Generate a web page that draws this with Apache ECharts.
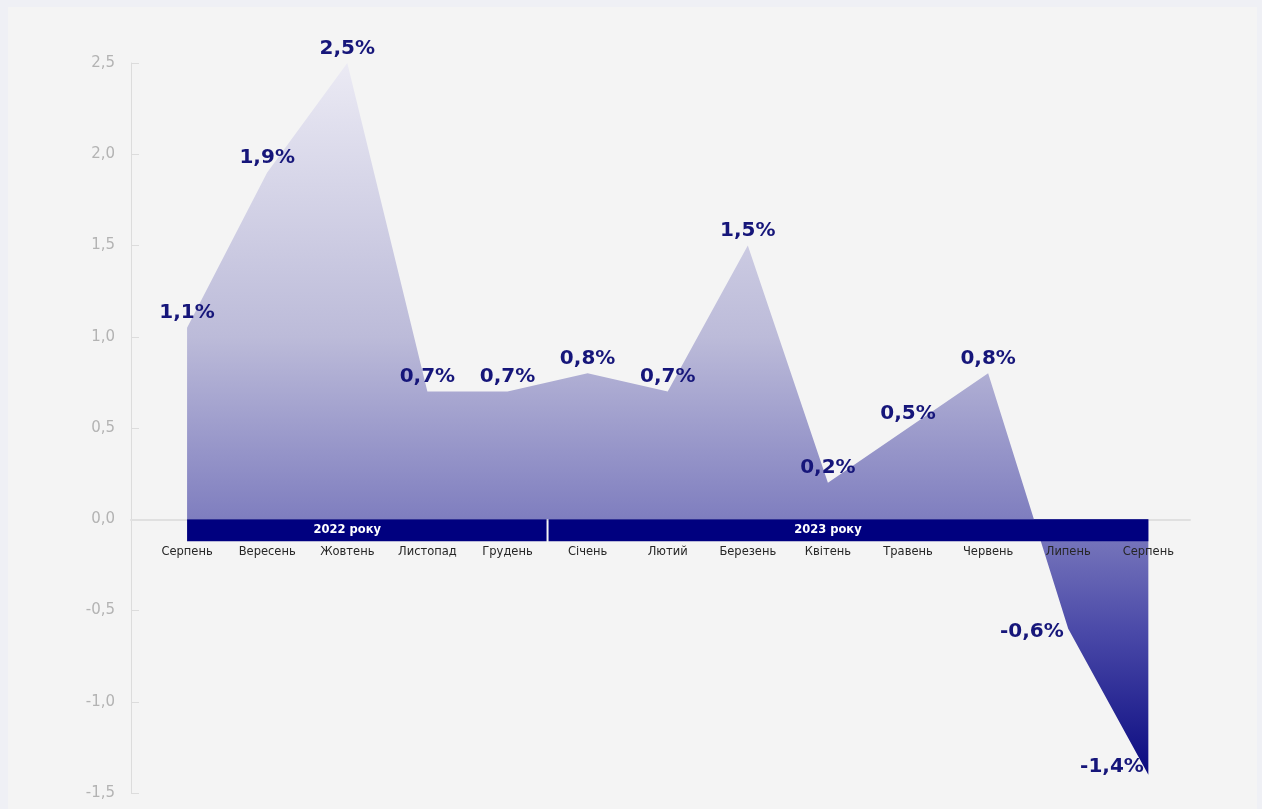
<!DOCTYPE html>
<html>
<head>
<meta charset="utf-8">
<script src="https://cdn.jsdelivr.net/npm/echarts@6/dist/echarts.min.js"></script>
<style>
html,body{margin:0;padding:0;background:#eff0f5;}
#main{position:absolute;left:0;top:0;width:1262px;height:809px;}
</style>
</head>
<body>
<div id="main"></div>
<script>
// ---- data ----
const months = ['Серпень','Вересень','Жовтень','Листопад','Грудень','Січень','Лютий','Березень','Квітень','Травень','Червень','Липень','Серпень'];
const values = [1.05, 1.9, 2.5, 0.7, 0.7, 0.8, 0.7, 1.5, 0.2, 0.5, 0.8, -0.6, -1.4];
const valueLabels = ['1,1%','1,9%','2,5%','0,7%','0,7%','0,8%','0,7%','1,5%','0,2%','0,5%','0,8%','-0,6%','-1,4%'];
const years = ['2022 року', '2023 року'];
const yearStart = [0, 4.5];
const yearEnd = [4.5, 12];
const yearLabelAt = [2, 8];

// ---- chart ----
const chart = echarts.init(document.getElementById('main'));
const navy = '#00007f';

const lineData = values.map((v, i) => {
  const d = { value: [i, v] };
  if (i >= 11) d.label = { position: 'left', distance: 4 };
  return d;
});

const bandData = years.map((y, i) => [yearStart[i], yearEnd[i], yearLabelAt[i], 0]);
const monthData = months.map((m, i) => [i, 0]);

chart.setOption({
  backgroundColor: 'transparent',
  graphic: [{
    type: 'rect', z: -10, silent: true,
    shape: { x: 8, y: 7, width: 1249, height: 810 },
    style: { fill: '#f4f4f4' }
  }],
  grid: { left: 131, right: 72, top: 63, bottom: 16, containLabel: false, outerBoundsMode: 'none' },
  xAxis: {
    type: 'value', min: -0.7, max: 12.52, z: 1,
    axisLine: { onZero: true, lineStyle: { color: '#e0e0e0', width: 2 } },
    axisTick: { show: false },
    splitLine: { show: false },
    axisLabel: { show: false }
  },
  yAxis: {
    type: 'value', min: -1.5, max: 2.5, interval: 0.5,
    axisLine: { show: true, onZero: false, lineStyle: { color: '#dcdcdc' } },
    axisTick: { show: true, inside: true, length: 8, lineStyle: { color: '#dcdcdc' } },
    splitLine: { show: false },
    axisLabel: {
      margin: 16, color: '#b3b3b3', fontSize: 15, fontFamily: 'DejaVu Sans',
      formatter: v => v.toFixed(1).replace('.', ',')
    }
  },
  series: [{
    type: 'line',
    data: lineData,
    symbol: 'circle',
    symbolSize: 1,
    showSymbol: true,
    itemStyle: { color: 'rgba(0,0,0,0)' },
    lineStyle: { width: 0 },
    z: 2,
    areaStyle: {
      opacity: 1,
      color: new echarts.graphic.LinearGradient(0, 0, 0, 1, [
        { offset: 0, color: '#ebeaf4' },
        { offset: 0.385, color: '#bcbbd9' },
        { offset: 0.64, color: '#7f7ebf' },
        { offset: 0.8, color: '#4a49a8' },
        { offset: 1, color: '#0a0a80' }
      ])
    },
    label: {
      show: true, position: 'top', distance: 4,
      formatter: p => valueLabels[p.dataIndex],
      color: '#16167a', fontSize: 20, fontWeight: 'bold', fontFamily: 'DejaVu Sans'
    },
    labelLayout: p => {
      if (p.dataIndex === 11) return { dy: 3, hideOverlap: false };
      if (p.dataIndex === 12) return { dy: -8, hideOverlap: false };
      return { hideOverlap: false };
    }
  }, {
    type: 'custom',
    z: 3,
    data: bandData,
    encode: { x: [0, 1, 2], y: 3 },
    renderItem: (params, api) => {
      const s = api.coord([api.value(0), 0]);
      const e = api.coord([api.value(1), 0]);
      const t = api.coord([api.value(2), 0]);
      const first = params.dataIndex === 0;
      const x0 = s[0] + (first ? 0 : 1);
      const x1 = e[0] - (first ? 1 : 0);
      return {
        type: 'group',
        children: [{
          type: 'rect',
          shape: { x: x0, y: s[1], width: x1 - x0, height: 22 },
          style: { fill: navy }
        }, {
          type: 'text',
          x: t[0], y: s[1] + 11,
          style: {
            text: years[params.dataIndex], fill: '#ffffff',
            font: 'bold 11.5px "DejaVu Sans"', align: 'center', verticalAlign: 'middle'
          }
        }]
      };
    }
  }, {
    type: 'custom',
    z: 4,
    data: monthData,
    encode: { x: 0, y: 1 },
    renderItem: (params, api) => {
      const p = api.coord([api.value(0), 0]);
      return {
        type: 'text',
        x: p[0], y: p[1] + 33,
        style: {
          text: months[params.dataIndex], fill: '#262626',
          font: '11.5px "DejaVu Sans"', align: 'center', verticalAlign: 'middle'
        }
      };
    }
  }]
});
</script>
</body>
</html>
